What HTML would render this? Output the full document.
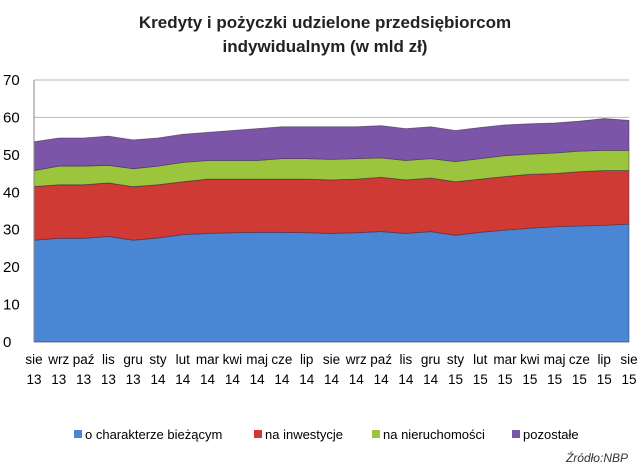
<!DOCTYPE html>
<html><head><meta charset="utf-8"><style>
body{margin:0;background:#fff;font-family:"Liberation Sans",sans-serif}
svg{display:block}
</style></head><body>
<svg width="640" height="470" viewBox="0 0 640 470">
<text x="325" y="28" text-anchor="middle" font-size="17" font-weight="bold" fill="#222">Kredyty i pożyczki udzielone przedsiębiorcom</text>
<text x="325" y="52" text-anchor="middle" font-size="17" font-weight="bold" fill="#222">indywidualnym (w mld zł)</text>
<g id="grid"></g><g id="areas"></g><g id="axes"></g>
<g font-size="13" fill="#000">
<rect x="74" y="430" width="8" height="8" fill="#4a86d4"/><text x="85" y="439">o charakterze bieżącym</text>
<rect x="254" y="430" width="8" height="8" fill="#d03a35"/><text x="265" y="439">na inwestycje</text>
<rect x="372" y="430" width="8" height="8" fill="#9bc53d"/><text x="383" y="439">na nieruchomości</text>
<rect x="512" y="430" width="8" height="8" fill="#7d55a8"/><text x="523" y="439">pozostałe</text>
</g>
<text x="628" y="462" text-anchor="end" font-size="12" font-style="italic" fill="#333">Źródło:NBP</text>
</svg>
<script>
const categories=["sie 13","wrz 13","paź 13","lis 13","gru 13","sty 14","lut 14","mar 14","kwi 14","maj 14","cze 14","lip 14","sie 14","wrz 14","paź 14","lis 14","gru 14","sty 15","lut 15","mar 15","kwi 15","maj 15","cze 15","lip 15","sie 15"];
const biezace=[27.2,27.7,27.7,28.2,27.2,27.8,28.7,29,29.2,29.3,29.3,29.2,29,29.2,29.5,29,29.5,28.5,29.3,29.9,30.4,30.8,31,31.2,31.5];
const inwestycje=[14.3,14.3,14.3,14.3,14.3,14.2,14.1,14.5,14.3,14.2,14.2,14.3,14.3,14.3,14.5,14.3,14.3,14.3,14.2,14.3,14.4,14.2,14.5,14.6,14.3];
const nieruchomosci=[4.3,5,5,4.7,4.8,5,5.2,5,5,5,5.5,5.5,5.5,5.5,5.2,5.2,5.2,5.4,5.5,5.6,5.4,5.5,5.5,5.4,5.4];
const pozostale=[7.7,7.5,7.5,7.8,7.7,7.5,7.5,7.5,8,8.5,8.5,8.5,8.7,8.5,8.6,8.5,8.5,8.3,8.3,8.2,8.1,8,8,8.5,8];
const yTicks=[0,10,20,30,40,50,60,70];
const NS="http://www.w3.org/2000/svg";
const X0=34,X1=629,Y0=342,Y1=80,YMAX=70;
const xs=i=>X0+(X1-X0)*i/(categories.length-1);
const ys=v=>Y0-(Y0-Y1)*v/YMAX;
function mk(t,a,p){const e=document.createElementNS(NS,t);for(const k in a)e.setAttribute(k,a[k]);p.appendChild(e);return e;}
const grid=document.getElementById('grid'),areas=document.getElementById('areas'),axes=document.getElementById('axes');
yTicks.forEach(v=>{
 const l=mk('line',{x1:X0,x2:X1,y1:ys(v),y2:ys(v),stroke:'#b8b8b8','stroke-width':1},grid);
 
 
 const t=mk('text',{x:3,y:ys(v)+5,'font-size':15,fill:'#000'},axes);t.textContent=v;
 
 
});
const series=[[biezace,'#4a86d4','biezace'],[inwestycje,'#d03a35','inwestycje'],[nieruchomosci,'#9bc53d','nieruchomosci'],[pozostale,'#7d55a8','pozostale']];
let base=categories.map(()=>0);
series.forEach(([vals,col,name])=>{
 const top=base.map((b,i)=>b+vals[i]);
 let d='M'+categories.map((c,i)=>xs(i)+','+ys(top[i])).join(' L');
 for(let i=categories.length-1;i>=0;i--)d+=' L'+xs(i)+','+ys(base[i]);
 const p=mk('path',{d:d+'Z',fill:col,stroke:'#3a2a4a','stroke-width':0.8,'stroke-opacity':0.6},areas);
 
 
 base=top;
});
mk('line',{x1:X0,x2:X0,y1:Y1,y2:Y0,stroke:'#888'},axes);
categories.forEach((c,i)=>{
 const [a,b]=c.split(' ');
 const t=mk('text',{x:xs(i),y:364,'text-anchor':'middle','font-size':13.5,fill:'#000'},axes);
 
 
 mk('tspan',{x:xs(i),dy:0},t).textContent=a;
 mk('tspan',{x:xs(i),dy:20},t).textContent=b;
});
</script>
</body></html>
